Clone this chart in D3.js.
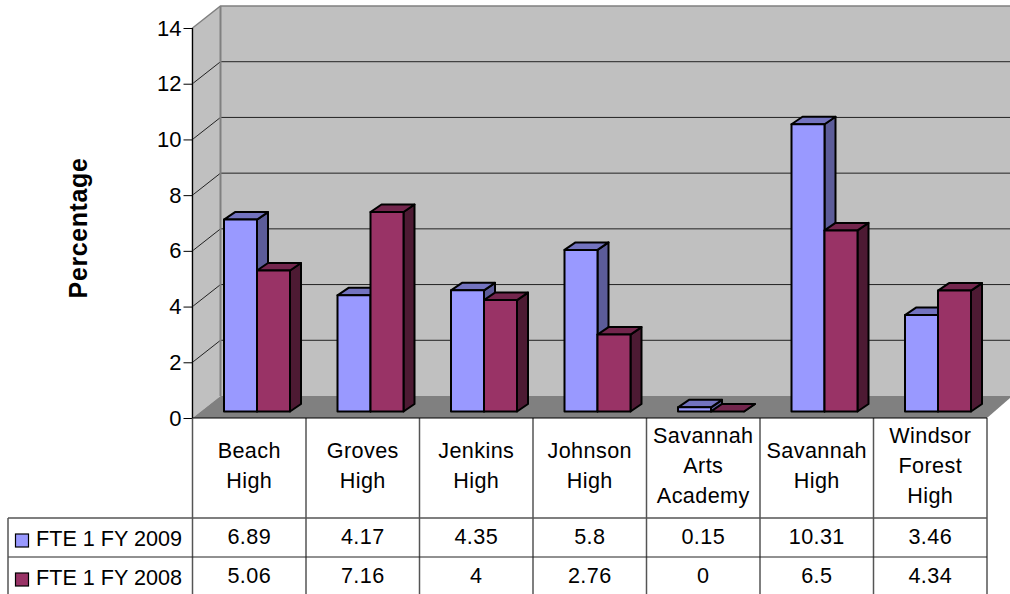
<!DOCTYPE html>
<html>
<head>
<meta charset="utf-8">
<script src="https://cdn.jsdelivr.net/npm/d3@7"></script>
<style>
  html, body { margin: 0; padding: 0; background: #fff; overflow: hidden; }
  svg { display: block; font-family: "Liberation Sans", Arial, sans-serif; }
</style>
</head>
<body>
<svg width="1010" height="594"></svg>
<script>
const categories = [["Beach", "High"], ["Groves", "High"], ["Jenkins", "High"], ["Johnson", "High"],
    ["Savannah", "Arts", "Academy"], ["Savannah", "High"], ["Windsor", "Forest", "High"]];
const fy2009 = [6.89, 4.17, 4.35, 5.8, 0.15, 10.31, 3.46];
const fy2008 = [5.06, 7.16, 4, 2.76, 0, 6.5, 4.34];
const yTicks = [0, 2, 4, 6, 8, 10, 12, 14];
const seriesNames = ["FTE 1 FY 2009", "FTE 1 FY 2008"];

const colors = [
    { front: "#9999ff", top: "#7373bf", side: "#5c5c99" },
    { front: "#993366", top: "#73264d", side: "#4d1a33" }
];

const svg = d3.select("svg");
const width = 1010, height = 594;
const fontSize = 21.6;

const margin = ({ left: 192.5, right: 987, top: 28, bottom: 418 });
const wallDx = 28, wallDy = -22;   // depth of the whole box
const barDx = 11, barDy = -7.5;    // depth of one bar
const barShiftY = -6.5;            // bars stand a bit behind the front edge
const tableLeft = 8, row1 = 518, row2 = 557, rowEnd = 594;

const x = d3.scaleBand()
    .domain(d3.range(categories.length))
    .range([margin.left, margin.right]);

const y = d3.scaleLinear()
    .domain([0, 14])
    .range([margin.bottom, margin.top]);

const line = d3.line();

// walls and floor
const wall = svg.append("g");
wall.append("path")
    .attr("d", line([[margin.left, y(14)], [margin.left + wallDx, y(14) + wallDy],
        [margin.left + wallDx, y(0) + wallDy], [margin.left, y(0)]]) + "Z")
    .attr("fill", "#c0c0c0");
wall.append("rect")
    .attr("x", margin.left + wallDx)
    .attr("y", y(14) + wallDy)
    .attr("width", width - margin.left - wallDx)
    .attr("height", y(0) - y(14))
    .attr("fill", "#c0c0c0");
wall.append("path")
    .attr("d", line([[margin.left, y(0)], [margin.left + wallDx, y(0) + wallDy],
        [width, y(0) + wallDy], [width, y(0) + wallDy + 2], [margin.right, y(0)]]) + "Z")
    .attr("fill", "#808080");

// gridlines
wall.selectAll("path.grid").data(yTicks.filter(d => d > 0 && d < 14)).enter().append("path")
    .attr("class", "grid")
    .attr("d", d => line([[margin.left, y(d)], [margin.left + wallDx, y(d) + wallDy], [width, y(d) + wallDy]]))
    .attr("fill", "none")
    .attr("stroke", "#222")
    .attr("stroke-width", 1);

// wall outline
wall.append("path")
    .attr("d", line([[margin.left, y(0)], [margin.left, y(14)], [margin.left + wallDx, y(14) + wallDy], [width, y(14) + wallDy]]))
    .attr("fill", "none")
    .attr("stroke", "#808080")
    .attr("stroke-width", 1.5);
wall.append("path")
    .attr("d", line([[margin.left + wallDx, y(14) + wallDy], [margin.left + wallDx, y(0) + wallDy]]))
    .attr("fill", "none")
    .attr("stroke", "#808080")
    .attr("stroke-width", 2);

// bars
const barWidth = 33, barOffset = 31.5;
const bars = [];
categories.forEach((c, i) => {
    bars.push({ i: i, s: 0, v: fy2009[i] });
    bars.push({ i: i, s: 1, v: fy2008[i] });
});

const bar = svg.append("g")
    .attr("stroke", "#000")
    .attr("stroke-width", 2)
    .attr("stroke-linejoin", "round")
    .selectAll("g").data(bars).enter().append("g");

const bx = d => x(d.i) + barOffset + d.s * barWidth;
const by0 = y(0) + barShiftY;
const by = d => by0 - (y(0) - y(d.v));

bar.append("path")
    .attr("d", d => line([[bx(d) + barWidth, by(d)], [bx(d) + barWidth + barDx, by(d) + barDy],
        [bx(d) + barWidth + barDx, by0 + barDy], [bx(d) + barWidth, by0]]) + "Z")
    .attr("fill", d => colors[d.s].side);
bar.append("path")
    .attr("d", d => line([[bx(d), by(d)], [bx(d) + barDx, by(d) + barDy],
        [bx(d) + barWidth + barDx, by(d) + barDy], [bx(d) + barWidth, by(d)]]) + "Z")
    .attr("fill", d => colors[d.s].top);
bar.append("rect")
    .attr("x", bx)
    .attr("y", by)
    .attr("width", barWidth)
    .attr("height", d => by0 - by(d))
    .attr("fill", d => colors[d.s].front);

// y axis
const gy = svg.append("g")
    .attr("transform", `translate(${margin.left},0)`)
    .call(d3.axisLeft(y).tickValues(yTicks).tickSize(9).tickPadding(2).tickFormat(d3.format("d")));
gy.select(".domain").attr("stroke", "#000").attr("stroke-width", 1.2).attr("d", `M0,${y(14)}V${y(0)}`);
gy.selectAll(".tick line").attr("stroke", "#000");
gy.selectAll("text").attr("font-size", 22).attr("font-family", "Liberation Sans").attr("fill", "#000");

svg.append("text")
    .attr("transform", "translate(87,228) rotate(-90)")
    .attr("text-anchor", "middle")
    .attr("font-size", 25)
    .attr("font-weight", "bold")
    .attr("letter-spacing", 0.6)
    .text("Percentage");

// data table
const table = svg.append("g")
    .attr("fill", "none");
const columns = d3.range(categories.length + 1).map(i => i < categories.length ? x(i) : margin.right);

table.selectAll("line.col").data(columns).enter().append("line")
    .attr("x1", d => d).attr("x2", d => d)
    .attr("y1", y(0)).attr("y2", rowEnd)
    .attr("stroke", "#555")
    .attr("stroke-width", 1.5);
table.append("line")
    .attr("x1", margin.left).attr("x2", margin.right)
    .attr("y1", y(0)).attr("y2", y(0))
    .attr("stroke", "#000");
table.selectAll("line.row").data([row1, row2]).enter().append("line")
    .attr("x1", tableLeft).attr("x2", margin.right)
    .attr("y1", d => d).attr("y2", d => d)
    .attr("stroke", d => d === row1 ? "#555" : "#222")
    .attr("stroke-width", d => d === row1 ? 1.5 : 1);
table.append("line")
    .attr("x1", tableLeft).attr("x2", tableLeft)
    .attr("y1", row1).attr("y2", rowEnd)
    .attr("stroke", "#555")
    .attr("stroke-width", 1.5);

const labels = svg.append("g")
    .attr("font-size", fontSize)
    .attr("letter-spacing", 0.4)
    .attr("text-anchor", "middle")
    .attr("fill", "#000");

categories.forEach((lines, i) => {
    const cy = (y(0) + row1) / 2 - 2;
    lines.forEach((t, j) => {
        labels.append("text")
            .attr("x", x(i) + x.bandwidth() / 2)
            .attr("y", cy + (j - (lines.length - 1) / 2) * 30 + 7)
            .text(t);
    });
});

[fy2009, fy2008].forEach((vals, s) => {
    const rowY = s === 0 ? 544 : 583;
    vals.forEach((v, i) => {
        labels.append("text")
            .attr("x", x(i) + x.bandwidth() / 2)
            .attr("y", rowY)
            .text(v);
    });
    svg.append("rect")
        .attr("x", 15.5)
        .attr("y", rowY - 10)
        .attr("width", 13)
        .attr("height", 13)
        .attr("fill", colors[s].front)
        .attr("stroke", "#000")
        .attr("stroke-width", 1.2);
    svg.append("text")
        .attr("x", 36)
        .attr("y", rowY + 2)
        .attr("font-size", fontSize)
        .attr("fill", "#000")
        .text(seriesNames[s]);
});
</script>
</body>
</html>
